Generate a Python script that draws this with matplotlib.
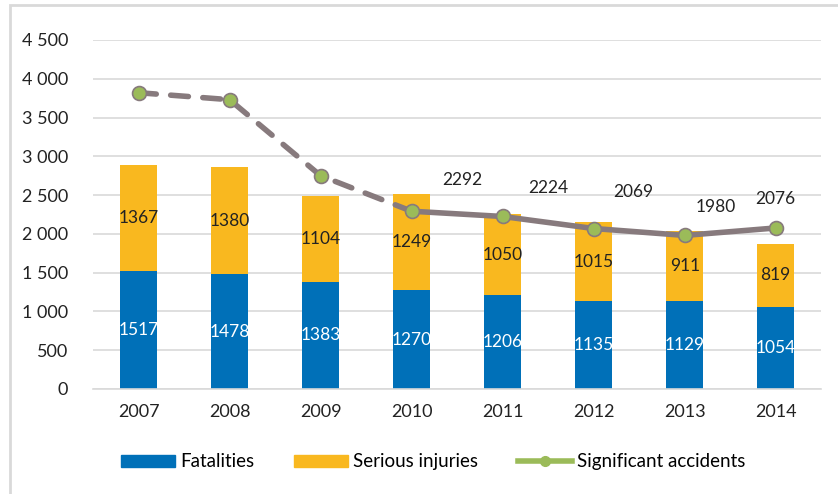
import numpy as np
import matplotlib.pyplot as plt
from matplotlib.lines import Line2D
from matplotlib.patches import Patch, Rectangle

plt.rcParams['font.family'] = ['Lato', 'DejaVu Sans']

years = ['2007', '2008', '2009', '2010', '2011', '2012', '2013', '2014']
fatalities = [1517, 1478, 1383, 1270, 1206, 1135, 1129, 1054]
serious_injuries = [1367, 1380, 1104, 1249, 1050, 1015, 911, 819]
accidents = [3820, 3730, 2750, 2292, 2224, 2069, 1980, 2076]
# only the later accident counts carry a label
labelled_from = 3

blue = '#0070b8'
yellow = '#f9b81f'
line_col = '#877a7d'
green = '#9bbb59'

fig = plt.figure(figsize=(8.38, 4.94), dpi=100)
ax = fig.add_axes([0.111, 0.2126, 0.869, 0.7065])

x = np.arange(len(years))
w = 0.41
ax.bar(x, fatalities, w, color=blue, zorder=2)
ax.bar(x, serious_injuries, w, bottom=fatalities, color=yellow, zorder=2)

for i in x:
    ax.text(i, fatalities[i] / 2, str(fatalities[i]), ha='center', va='center',
            color='white', fontsize=12.5, zorder=5)
    ax.text(i, fatalities[i] + serious_injuries[i] / 2, str(serious_injuries[i]),
            ha='center', va='center', color='#222222', fontsize=12.5, zorder=5)

# dashed for the early years, solid afterwards
ax.plot(x[:labelled_from + 1], accidents[:labelled_from + 1], color=line_col,
        lw=4, ls=(0, (3.2, 2.6)), dash_capstyle='round', zorder=3)
ax.plot(x[labelled_from:], accidents[labelled_from:], color=line_col, lw=4,
        solid_capstyle='round', zorder=3)
ax.plot(x, accidents, ls='none', marker='o', ms=10, mfc=green, mec=line_col,
        mew=1.2, zorder=4)

offsets = [(51, -31), (46, -28), (40, -37), (31, -28), (0, -29)]
for (dx, dy), i in zip(offsets, x[labelled_from:]):
    ax.annotate(str(accidents[i]), (i, accidents[i]),
                xytext=(dx * 0.72, -dy * 0.72), textcoords='offset points',
                ha='center', va='center', fontsize=12.5, color='#222222')

ax.set_xlim(-0.5, len(years) - 0.5)
ax.set_ylim(0, 4500)
ax.set_xticks(x)
ax.set_xticklabels(years, fontsize=13)
yt = np.arange(0, 4501, 500)
ax.set_yticks(yt)
ax.set_yticklabels([f'{v:,}'.replace(',', ' ') for v in yt], fontsize=13)
ax.tick_params(length=0, pad=11, colors='#222222')
ax.tick_params(axis='y', pad=18)
ax.grid(axis='y', color='#d9d9d9', lw=1.2, zorder=0)
ax.set_axisbelow(True)
for s in ['top', 'right', 'left']:
    ax.spines[s].set_visible(False)
ax.spines['bottom'].set_color('#d9d9d9')
ax.spines['bottom'].set_linewidth(1.2)

handles = [Patch(color=blue, label='Fatalities'),
           Patch(color=yellow, label='Serious injuries'),
           Line2D([], [], color=green, lw=4, marker='o', ms=7, label='Significant accidents')]
fig.legend(handles=handles, loc='center', bbox_to_anchor=(0.517, 0.065), ncol=3,
           frameon=False, fontsize=13.5, handlelength=2.9, handleheight=0.65,
           columnspacing=2.1, handletextpad=0.28)

# light frame around the chart
fig.patches.append(Rectangle((0.012, -0.02), 1.0, 1.01, transform=fig.transFigure,
                             fill=False, ec='#d9d9d9', lw=2))

fig.savefig('out.png', dpi=100)
